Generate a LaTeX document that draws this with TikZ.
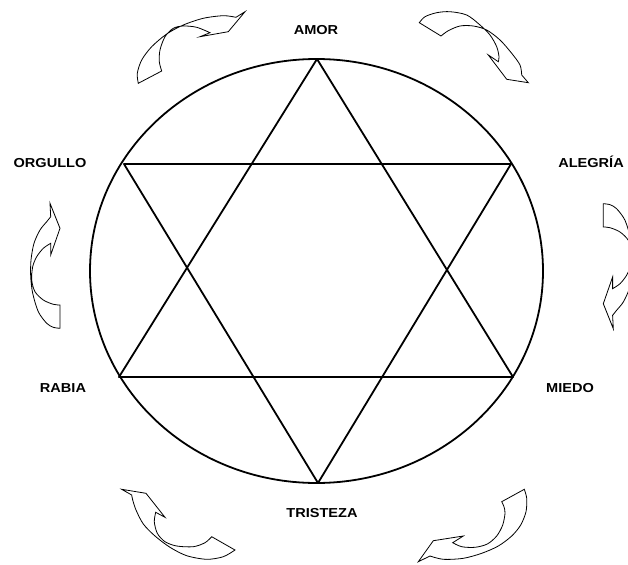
\documentclass[tikz,border=0pt]{standalone}
\usepackage{fontspec}
\setmainfont[FakeStretch=1.12]{Liberation Sans}
\begin{document}
\begin{tikzpicture}[x=1pt, y=-1pt,
  lbl/.style={font=\bfseries\fontsize{13}{15}\selectfont},
  heavy/.style={line width=1.8pt, line join=round},
  ribbon/.style={draw, line width=0.8pt, line join=miter}]
\useasboundingbox (0,0) rectangle (628,564);
% corners of the star
\coordinate (c-amor) at (317,59);
\coordinate (c-alegria) at (511,164);
\coordinate (c-miedo) at (513,377);
\coordinate (c-tristeza) at (318,483);
\coordinate (c-rabia) at (119,377);
\coordinate (c-orgullo) at (124,164);
\coordinate (ctr) at (316.5,271);
\draw[heavy] (ctr) ellipse [x radius=226.5pt, y radius=212pt];
\draw[heavy] (c-amor) -- (c-miedo) -- (c-rabia) -- cycle;
\draw[heavy] (c-orgullo) -- (c-alegria) -- (c-tristeza) -- cycle;
% labels
\node[lbl] (amor) at (316,30) {AMOR};
\node[lbl] (alegria) at (591,162) {ALEGRÍA};
\node[lbl] (miedo) at (570,388) {MIEDO};
\node[lbl] (tristeza) at (322,513) {TRISTEZA};
\node[lbl] (rabia) at (63,388) {RABIA};
\node[lbl] (orgullo) at (50,163) {ORGULLO};
% bent arrows, going round clockwise
\draw[ribbon] plot[smooth] coordinates {(138.3,83.3) (137.3,73.3) (141.7,60) (151.7,46.7) (166.7,34) (183.3,25) (203.3,18.3) (223.3,15.7) (236,17.3)}
  -- (245,11.7) -- (228.3,31.7) -- (200,36.7) -- (210,32.7)
  -- plot[smooth] coordinates {(210,32.7) (196.7,27.3) (183.3,26) (173.3,28.3) (165,36.7) (160,50) (159.3,61.7) (161.7,71)}
  -- cycle;
\draw[ribbon] plot[smooth] coordinates {(419.3,22.7) (425,16.7) (436.7,12.7) (450,11.7) (466.7,15) (480,25) (490,35) (496.7,46.7) (499,56.7) (498.3,61.7)}
  -- (488.3,55) -- (506.7,79.3) -- (528.3,82.7) -- (521.7,75)
  -- plot[smooth] coordinates {(521.7,75) (520,65) (511.7,53.3) (500,40) (486.7,30) (473.3,26) (460,26) (448.3,30.7) (441,36)}
  -- cycle;
\begin{scope}
\clip (0,0) rectangle (628,564);
\draw[ribbon] plot[smooth] coordinates {(603.3,203.7) (610,204.7) (616.6,208.7) (625,220.3) (630.6,238.7) (632.6,255.3) (632.3,272) (629.3,288.7) (623.3,302) (616.6,310.3) (612.6,315.3)}
  -- (613.3,328.7) -- (603.3,303.7) -- (612.6,277) -- (612.6,288.7)
  -- plot[smooth] coordinates {(612.6,288.7) (620,283.7) (626.6,275.3) (630.6,265.3) (631.6,252) (628.3,240.3) (620,232) (610,227.7) (603.3,227)}
  -- cycle;
\end{scope}
\draw[ribbon] plot[smooth] coordinates {(524.3,489.3) (526.7,498.3) (526,511.7) (520.7,525) (511.7,536) (498.3,546) (481.7,553.3) (463.3,558.3) (443.3,559.3) (430,556)}
  -- (418.3,561.7) -- (433.3,540.7) -- (463.3,536) -- (452.7,542.7)
  -- plot[smooth] coordinates {(452.7,542.7) (461.7,546.7) (475,547.3) (487.3,544) (496.7,536) (502.7,525) (505,513.3) (504,506.7) (501.7,501.7)}
  -- cycle;
\draw[ribbon] plot[smooth] coordinates {(235,550) (223.3,556.7) (206.7,559.3) (186.7,555.7) (170,547.3) (155,536) (143.3,524) (136,510) (132.7,500) (131.7,495)}
  -- (121.7,489.3) -- (146,493.3) -- (165,517.3) -- (155.7,512.3)
  -- plot[smooth] coordinates {(155.7,512.3) (154.3,521.7) (157.3,533.3) (165,541.7) (176.7,546) (193.3,546.7) (205,542.7) (211.7,536.7)}
  -- cycle;
\draw[ribbon] plot[smooth] coordinates {(50.7,216.7) (46.7,221.7) (40,230) (34,243.3) (31,260) (30.7,276.7) (32.7,293.3) (38.3,311.7) (46.7,323.3) (53.3,327.3) (60,328.3)}
  -- plot[smooth] coordinates {(60,305) (53.3,304.3) (43.3,300) (35,291.7) (31.7,280) (32.7,266.7) (36.7,256.7) (43.3,248.3) (50.7,243.3)}
  -- (50.7,255) -- (60,228.3) -- (50,203.3) -- cycle;
\end{tikzpicture}
\end{document}
